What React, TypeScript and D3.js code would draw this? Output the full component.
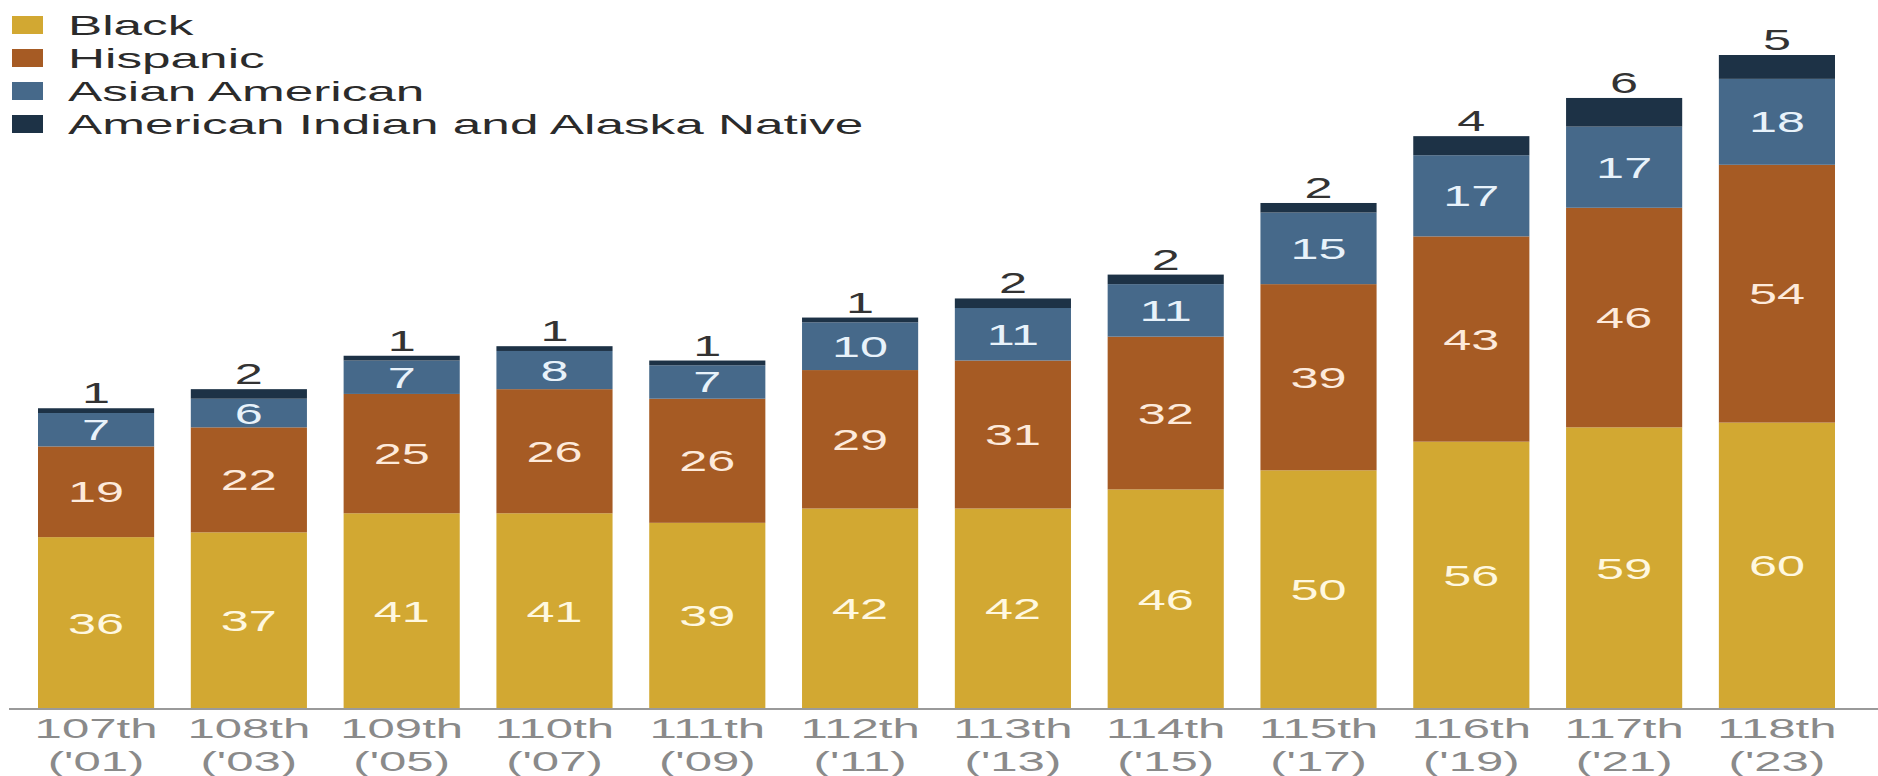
import React from "react";
import * as d3 from "d3";

const congresses = ["107th", "108th", "109th", "110th", "111th", "112th", "113th", "114th", "115th", "116th", "117th", "118th"];
const years = ["('01)", "('03)", "('05)", "('07)", "('09)", "('11)", "('13)", "('15)", "('17)", "('19)", "('21)", "('23)"];
const black = [36, 37, 41, 41, 39, 42, 42, 46, 50, 56, 59, 60];
const hispanic = [19, 22, 25, 26, 26, 29, 31, 32, 39, 43, 46, 54];
const asian = [7, 6, 7, 8, 7, 10, 11, 11, 15, 17, 17, 18];
const aian = [1, 2, 1, 1, 1, 1, 2, 2, 2, 4, 6, 5];

const seriesNames = ["Black", "Hispanic", "Asian American", "American Indian and Alaska Native"];
const seriesColors = ["#d2a832", "#a65b24", "#46698a", "#1d3246"];
const labelColors = ["#fff8e0", "#fdeadb", "#e8f2fa", "#333333"];

const W = 1878;
const H = 776;
const SX = 1.68;

export default function App() {
  const seriesData = [black, hispanic, asian, aian];
  const rows = congresses.map((c, i) => ({
    c,
    y: years[i],
    v0: black[i],
    v1: hispanic[i],
    v2: asian[i],
    v3: aian[i],
  }));
  const stack = d3.stack<any>().keys(["v0", "v1", "v2", "v3"]);
  const stacked = stack(rows);

  const x = d3.scaleBand<string>().domain(congresses).range([38, 1835]).paddingInner(0.24).paddingOuter(0);
  const y = d3.scaleLinear().domain([0, 137]).range([709, 55]);
  const bw = x.bandwidth();

  return (
    <svg width={W} height={H} style={{ position: "absolute", left: 0, top: 0, background: "#fff" }}
      fontFamily="'Liberation Sans', Arial, sans-serif">
      {/* legend */}
      {seriesNames.map((name, i) => {
        const cy = 25 + i * 33;
        return (
          <g key={name}>
            <rect x={12} y={cy - 9} width={31} height={18} fill={seriesColors[i]} />
            <text transform={`translate(68,${cy}) scale(1.8,1)`} dominantBaseline="central" fontSize={28.5} fill="#2b2b2b">
              {name}
            </text>
          </g>
        );
      })}

      {/* bars */}
      {stacked.map((layer, si) => (
        <g key={si} fill={seriesColors[si]}>
          {layer.map((d, i) => (
            <rect key={i} x={x(congresses[i])} y={y(d[1])} width={bw} height={y(d[0]) - y(d[1])} />
          ))}
        </g>
      ))}

      {/* segment labels */}
      {stacked.map((layer, si) =>
        layer.map((d, i) => {
          const cx = (x(congresses[i]) as number) + bw / 2;
          const val = seriesData[si][i];
          if (si === 3) {
            return (
              <text key={`${si}-${i}`} transform={`translate(${cx},${y(d[1]) - 5}) scale(${SX},1)`} textAnchor="middle"
                fontSize={30} fill={labelColors[si]}>
                {val}
              </text>
            );
          }
          const cy = (y(d[0]) + y(d[1])) / 2;
          return (
            <text key={`${si}-${i}`} transform={`translate(${cx},${cy}) scale(${SX},1)`} textAnchor="middle"
              dominantBaseline="central" fontSize={30} fill={labelColors[si]}>
              {val}
            </text>
          );
        })
      )}

      {/* axis */}
      <line x1={9} x2={W} y1={709} y2={709} stroke="#9a9a9a" strokeWidth={2} />
      {congresses.map((c, i) => {
        const cx = (x(c) as number) + bw / 2;
        return (
          <g key={c} fill="#8a8a8a" fontSize={27}>
            <text transform={`translate(${cx},728) scale(1.82,1)`} textAnchor="middle" dominantBaseline="central">{c}</text>
            <text transform={`translate(${cx},761) scale(1.82,1)`} textAnchor="middle" dominantBaseline="central">{years[i]}</text>
          </g>
        );
      })}
    </svg>
  );
}
